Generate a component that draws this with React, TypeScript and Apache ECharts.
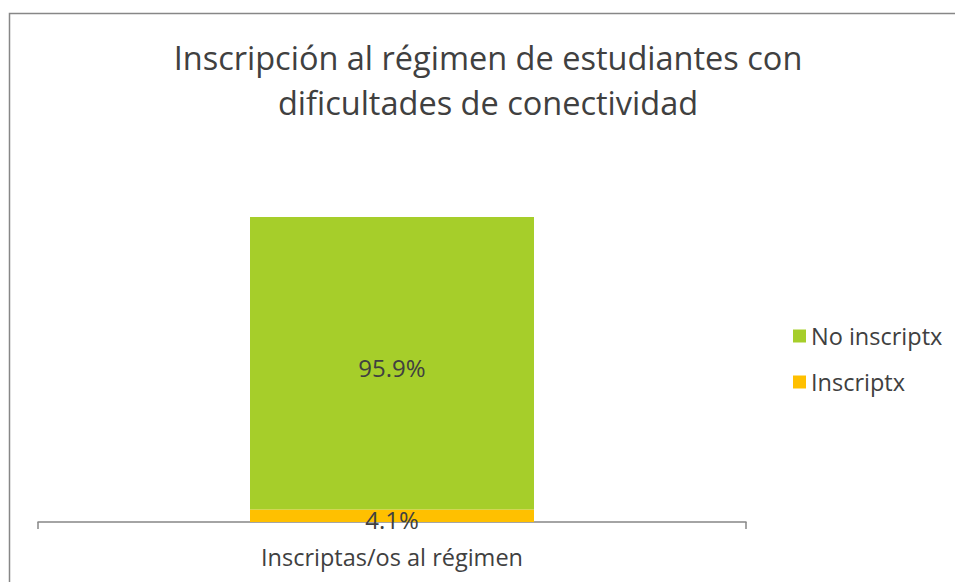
import React, { useEffect, useRef } from "react";
import * as echarts from "echarts";

const categories = ["Inscriptas/os al régimen"];
const seriesNames = ["Inscriptx", "No inscriptx"];
const inscriptx = [4.1];
const noInscriptx = [95.9];
const legendOrder = ["No inscriptx", "Inscriptx"];
const titleText = "Inscripción al régimen de estudiantes con\ndificultades de conectividad";

const FONT = "'Open Sans', sans-serif";
const TEXT = "#404040";

export default function App() {
  const ref = useRef<HTMLDivElement>(null);
  useEffect(() => {
    if (!ref.current) return;
    const chart = echarts.init(ref.current, undefined, { renderer: "svg" });
    const labelFmt = (p: any) => `${p.value}%`;
    chart.setOption({
      animation: false,
      backgroundColor: "#ffffff",
      textStyle: { fontFamily: FONT, color: TEXT },
      title: {
        text: titleText,
        left: 483,
        textAlign: "center",
        top: 30,
        textStyle: { fontFamily: FONT, fontSize: 32.5, fontWeight: "normal", color: TEXT, lineHeight: 45 },
      },
      legend: {
        data: legendOrder,
        orient: "vertical",
        left: 788,
        top: 319,
        itemWidth: 13,
        itemHeight: 13,
        itemGap: 22,
        itemTextGap: 9,
        icon: "rect",
        textStyle: { fontFamily: FONT, fontSize: 23.5, color: TEXT },
      },
      grid: { left: 38, right: 209, top: 217, bottom: 60 },
      xAxis: {
        type: "category",
        data: categories,
        boundaryGap: true,
        axisLine: { lineStyle: { color: "#878787", width: 1.5 } },
        axisTick: { show: true, length: 7, lineStyle: { color: "#878787", width: 1.5 } },
        axisLabel: { fontFamily: FONT, fontSize: 23.5, color: TEXT, margin: 23 },
      },
      yAxis: {
        type: "value",
        min: 0,
        max: 100,
        show: false,
      },
      series: [
        {
          name: seriesNames[0],
          type: "bar",
          stack: "total",
          data: inscriptx,
          barWidth: 284,
          itemStyle: { color: "#FFC000" },
          label: { show: true, position: "inside", offset: [0, 4], formatter: labelFmt, fontFamily: FONT, fontSize: 24, color: TEXT },
        },
        {
          name: seriesNames[1],
          type: "bar",
          stack: "total",
          data: noInscriptx,
          barWidth: 284,
          itemStyle: { color: "#A6CE2A" },
          label: { show: true, position: "inside", offset: [0, 4], formatter: labelFmt, fontFamily: FONT, fontSize: 24, color: TEXT },
        },
      ],
      graphic: [
        {
          type: "rect",
          silent: true,
          shape: { x: 9.5, y: 13.5, width: 1000, height: 1000 },
          style: { fill: "none", stroke: "#878787", lineWidth: 1.5 },
        },
      ],
    });
    return () => chart.dispose();
  }, []);
  return (
    <div
      ref={ref}
      style={{ position: "fixed", left: 0, top: 0, width: 955, height: 582 }}
    />
  );
}
